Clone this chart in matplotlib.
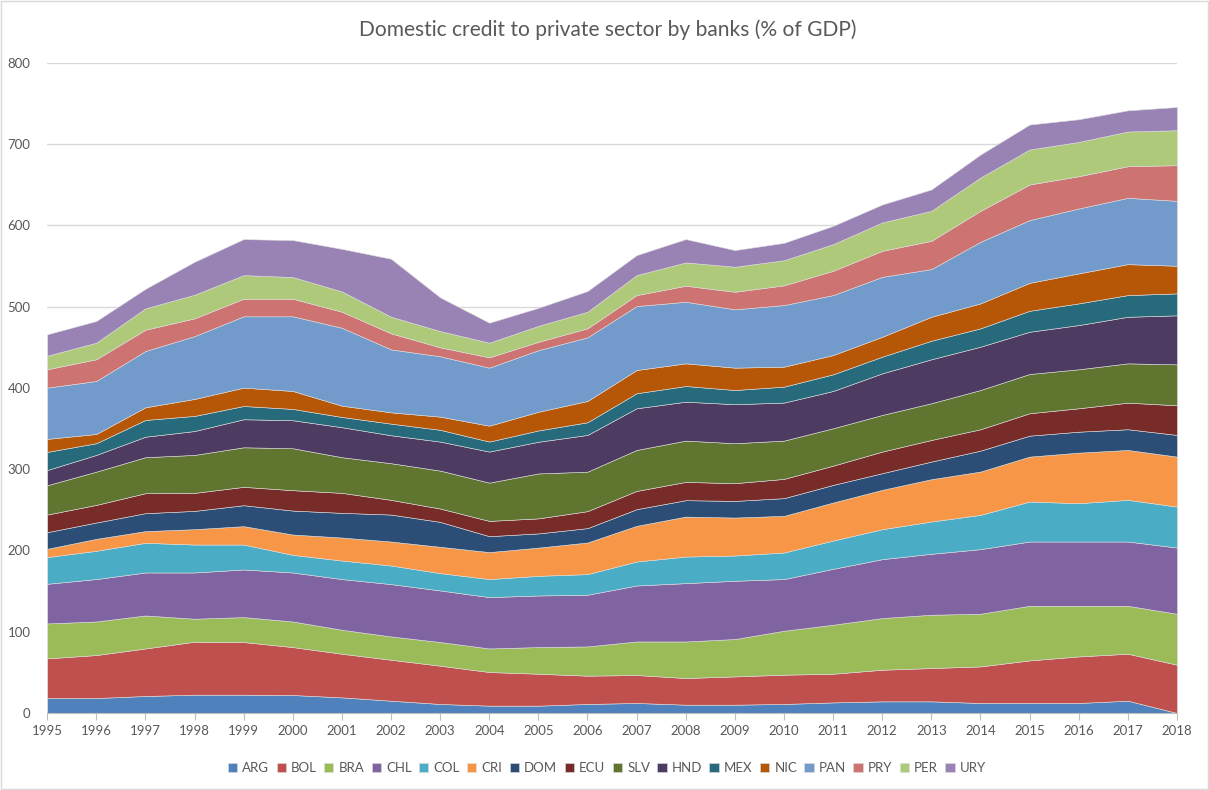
import numpy as np
import matplotlib
matplotlib.use("Agg")
import matplotlib.pyplot as plt

plt.rcParams['font.family'] = ['Lato', 'DejaVu Sans']

# Data (% of GDP)
years = list(range(1995, 2019))
countries = ['ARG', 'BOL', 'BRA', 'CHL', 'COL', 'CRI', 'DOM', 'ECU',
             'SLV', 'HND', 'MEX', 'NIC', 'PAN', 'PRY', 'PER', 'URY']

ARG = [18.4, 18.4, 20.9, 22.5, 22.5, 22.1, 19.2, 15.1, 11.1, 9.0, 9.0, 11.1,
       12.3, 10.2, 10.2, 11.1, 13.0, 14.3, 14.3, 12.3, 12.3, 12.3, 15.1, 0.0]
BOL = [48.8, 52.9, 58.5, 65.2, 64.8, 59.0, 53.7, 50.4, 47.1, 41.4, 39.3, 34.8,
       34.4, 32.8, 34.8, 36.0, 35.3, 38.9, 41.0, 45.0, 52.4, 57.3, 57.8, 59.4]
BRA = [43.0, 41.3, 40.6, 28.3, 30.7, 31.5, 29.5, 28.7, 29.1, 29.0, 32.8, 36.0,
       41.3, 45.0, 46.0, 54.1, 60.3, 63.6, 65.6, 64.8, 67.2, 62.3, 59.0, 62.7]
CHL = [48.8, 52.2, 52.9, 56.9, 58.6, 60.3, 62.4, 64.4, 63.5, 63.2, 63.5, 63.6,
       68.9, 71.8, 71.7, 63.6, 68.8, 72.5, 75.0, 79.5, 79.1, 79.1, 79.1, 81.5]
COL = [32.8, 34.8, 36.5, 34.4, 30.7, 21.7, 22.8, 22.9, 21.3, 22.2, 24.2, 25.4,
       29.5, 32.7, 31.1, 32.7, 34.8, 36.9, 39.7, 42.2, 49.2, 47.2, 51.3, 50.4]
CRI = [10.2, 14.7, 14.4, 18.9, 22.6, 25.0, 28.3, 29.5, 32.4, 33.2, 34.7, 38.9,
       43.9, 49.2, 46.7, 45.1, 46.8, 48.4, 52.1, 53.3, 55.3, 62.2, 61.4, 61.5]
DOM = [20.5, 20.1, 22.1, 22.5, 25.8, 29.5, 30.4, 33.2, 30.7, 19.6, 17.5, 17.7,
       20.5, 20.2, 20.5, 21.8, 21.7, 20.5, 21.7, 25.8, 25.8, 25.8, 25.5, 26.7]
ECU = [21.7, 21.7, 24.6, 22.2, 22.6, 25.1, 24.6, 18.1, 16.4, 18.8, 18.5, 20.9,
       22.5, 22.5, 21.8, 23.7, 23.7, 26.6, 26.6, 26.3, 27.6, 28.8, 32.7, 36.5]
SLV = [36.1, 40.9, 44.3, 46.7, 48.7, 51.6, 43.9, 45.1, 46.7, 47.1, 55.3, 48.6,
       50.4, 50.8, 49.2, 47.1, 46.0, 45.1, 45.2, 48.3, 48.3, 48.0, 48.4, 50.4]
HND = [18.7, 20.6, 25.2, 29.4, 34.5, 34.5, 36.9, 34.4, 35.7, 38.2, 39.0, 45.2,
       51.3, 47.9, 48.0, 46.8, 45.9, 51.2, 54.1, 53.3, 52.0, 54.4, 57.3, 60.3]
MEX = [22.3, 14.4, 20.6, 18.6, 16.3, 13.9, 12.6, 14.3, 14.5, 12.3, 13.9, 15.6,
       18.5, 19.3, 17.5, 19.6, 20.5, 20.5, 22.8, 22.6, 25.8, 26.7, 26.7, 27.0]
NIC = [16.0, 11.4, 15.6, 20.9, 22.6, 22.1, 13.9, 13.9, 16.2, 19.6, 23.0, 26.2,
       28.6, 27.9, 27.5, 24.6, 23.7, 24.5, 29.5, 30.7, 34.4, 36.9, 38.1, 34.0]
PAN = [63.1, 65.2, 69.3, 77.3, 87.8, 91.9, 95.9, 77.5, 74.3, 71.4, 75.8, 78.3,
       78.7, 75.8, 71.8, 75.8, 73.8, 73.8, 58.7, 75.8, 77.2, 79.9, 81.6, 79.9]
PRY = [22.6, 26.7, 26.2, 21.9, 21.6, 21.6, 19.7, 19.7, 11.0, 12.7, 10.3, 11.1,
       13.5, 19.7, 21.6, 24.3, 29.9, 32.0, 34.8, 38.1, 43.8, 39.7, 38.9, 43.9]
PER = [16.7, 20.4, 26.3, 29.0, 29.1, 26.7, 25.0, 20.5, 20.0, 18.0, 19.6, 20.4,
       24.6, 28.7, 30.8, 30.9, 32.8, 34.9, 36.9, 41.0, 43.1, 42.2, 42.7, 43.0]
URY = [26.3, 26.7, 24.0, 40.6, 44.3, 45.5, 52.4, 71.3, 41.5, 24.6, 22.2, 25.5,
       24.6, 28.7, 20.5, 21.4, 22.5, 22.1, 26.3, 28.3, 30.7, 27.9, 26.1, 28.6]

series = [ARG, BOL, BRA, CHL, COL, CRI, DOM, ECU, SLV, HND, MEX, NIC, PAN, PRY, PER, URY]

colors = ['#4F81BD', '#C0504D', '#9BBB59', '#8064A2', '#4BACC6', '#F79646',
          '#2C4D75', '#772C2A', '#5F7530', '#4D3B62', '#276A7C', '#B65708',
          '#729ACA', '#CD7371', '#AFC97A', '#9983B5']

fig = plt.figure(figsize=(12.09, 7.9), dpi=100)
ax = fig.add_axes([0.039, 0.0975, 0.9345, 0.8228])

polys = ax.stackplot(years, *series, labels=countries, colors=colors,
                     edgecolor='#dddddd', linewidth=0.4)

ax.set_xlim(1995, 2018)
ax.set_ylim(0, 800)
ax.set_yticks(range(0, 801, 100))
ax.set_xticks(years)
ax.set_xticklabels([str(y) for y in years])

ax.grid(axis='y', color='#d9d9d9', linewidth=1)
ax.set_axisbelow(True)
for s in ['top', 'right', 'left']:
    ax.spines[s].set_visible(False)
ax.spines['bottom'].set_color('#bfbfbf')
ax.tick_params(axis='y', length=0, labelsize=9.5, colors='#595959', pad=12)
ax.tick_params(axis='x', length=5, color='#bfbfbf', labelsize=9.5,
               labelcolor='#595959', pad=4)

fig.text(0.503, 0.962, 'Domestic credit to private sector by banks (% of GDP)',
         ha='center', va='center', fontsize=15.1, color='#595959')

handles, labels = ax.get_legend_handles_labels()
fig.legend(handles, labels, loc='center', bbox_to_anchor=(0.502, 0.028),
           ncol=16, frameon=False, fontsize=9.5, labelcolor='#595959',
           handlelength=0.7, handleheight=0.7, handletextpad=0.4,
           columnspacing=0.55)

# light border around the figure, like the original chart area
fig.patches.append(plt.Rectangle((0.001, 0.001), 0.998, 0.998,
                                 transform=fig.transFigure, fill=False,
                                 edgecolor='#d9d9d9', linewidth=1))

fig.savefig('out.png', dpi=100)
